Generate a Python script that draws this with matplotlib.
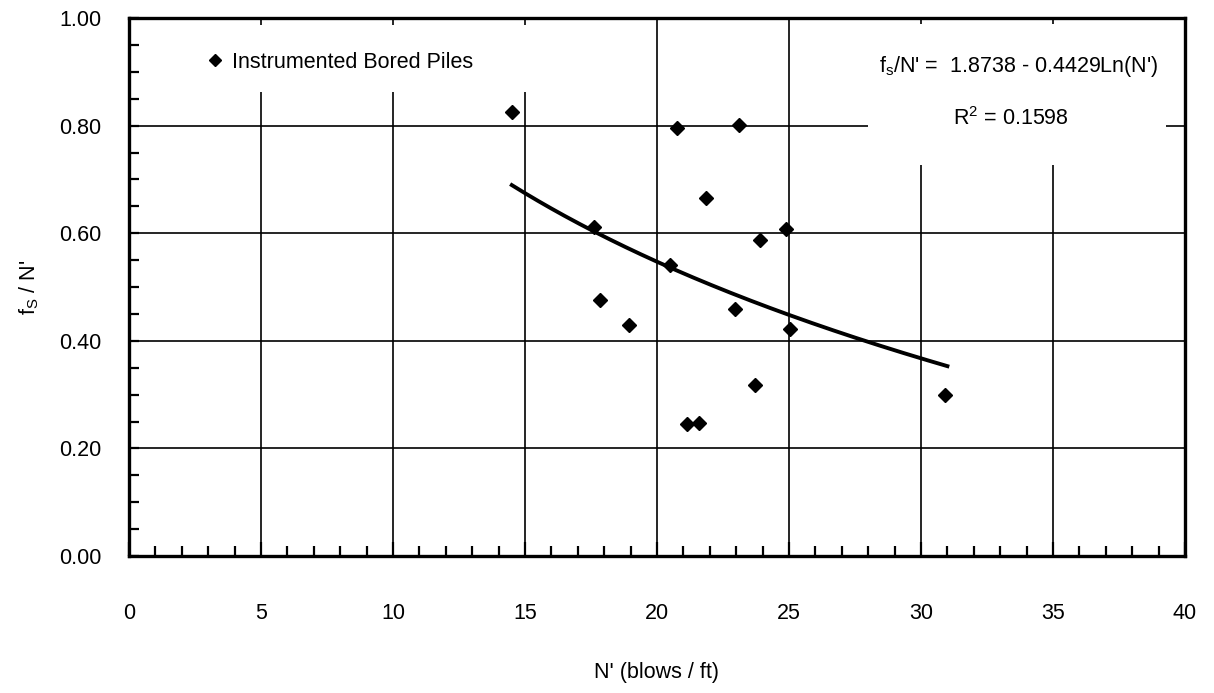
import matplotlib
matplotlib.use("Agg")
import matplotlib.pyplot as plt
from matplotlib.patches import Rectangle
import numpy as np

plt.rcParams['font.family'] = ['Liberation Sans', 'DejaVu Sans']
plt.rcParams['mathtext.fontset'] = 'custom'
plt.rcParams['mathtext.rm'] = 'Liberation Sans'
plt.rcParams['mathtext.it'] = 'Liberation Sans'

# ---- data ----
n_prime = [14.5, 17.6, 17.85, 18.95, 20.5, 20.75, 21.15, 21.6, 21.85, 22.95,
           23.1, 23.7, 23.9, 24.9, 25.05, 30.9]
fs_over_n = [0.825, 0.612, 0.475, 0.43, 0.54, 0.795, 0.245, 0.248, 0.665, 0.46,
             0.802, 0.318, 0.588, 0.607, 0.422, 0.30]
fit_a = 1.8738
fit_b = 0.4429
fit_range = [14.5, 31.0]
r_squared = 0.1598

x_ticks = [0, 5, 10, 15, 20, 25, 30, 35, 40]
y_ticks = [0.0, 0.2, 0.4, 0.6, 0.8, 1.0]
y_tick_labels = ['0.00', '0.20', '0.40', '0.60', '0.80', '1.00']

FS = 15.5

fig = plt.figure(figsize=(12.14, 6.93), dpi=100)
ax = fig.add_axes([129 / 1214, 1 - 556 / 693, (1185 - 129) / 1214, (556 - 18) / 693])

ax.set_xlim(0, 40)
ax.set_ylim(0, 1.0)
ax.set_xticks(x_ticks)
ax.set_xticks(np.arange(0, 41, 1), minor=True)
ax.set_yticks(y_ticks)
ax.set_yticklabels(y_tick_labels)
ax.set_yticks(np.arange(0, 1.0001, 0.05), minor=True)

ax.grid(True, which='major', color='black', linewidth=1.2)
ax.set_axisbelow(True)

ax.tick_params(axis='x', which='major', direction='in', length=10, width=1.6,
               pad=34, labelsize=FS)
ax.tick_params(axis='x', which='minor', direction='in', length=7, width=1.6)
ax.tick_params(axis='y', which='major', direction='in', length=7, width=1.6,
               pad=20, labelsize=FS)
ax.tick_params(axis='y', which='minor', direction='in', length=7, width=1.6)

for s in ax.spines.values():
    s.set_linewidth(2.4)
    s.set_color('black')

# white areas behind the legend and equation (they hide the grid there)
ax.add_patch(Rectangle((0.0104, 0.862), 0.436, 0.125, transform=ax.transAxes,
                       facecolor='white', edgecolor='none', zorder=1))
ax.add_patch(Rectangle((0.70, 0.727), 0.282, 0.262, transform=ax.transAxes,
                       facecolor='white', edgecolor='none', zorder=1))

# data
ax.plot(n_prime, fs_over_n, linestyle='none', marker='D', markersize=7.5,
        color='black', zorder=3, label='Instrumented Bored Piles')

xf = np.linspace(fit_range[0], fit_range[1], 200)
ax.plot(xf, fit_a - fit_b * np.log(xf), color='black', linewidth=2.8, zorder=3)

leg = ax.legend(loc='center left', bbox_to_anchor=(0.0731, 0.918),
                frameon=False, fontsize=FS, handlelength=0.8,
                handletextpad=0.42, borderpad=0, borderaxespad=0,
                numpoints=1, markerscale=0.8)
leg.set_zorder(4)

ax.text(0.842, 0.909, r"f$_{\rm s}$/N' =  %.4f - %.4fLn(N')" % (fit_a, fit_b),
        transform=ax.transAxes, ha='center', va='center', fontsize=FS, zorder=4)
ax.text(0.8355, 0.814, r"R$^{\rm 2}$ = %.4f" % r_squared,
        transform=ax.transAxes, ha='center', va='center', fontsize=FS, zorder=4)

ax.set_xlabel("N' (blows / ft)", fontsize=FS, labelpad=27)
ax.set_ylabel(r"f$_{\rm S}$ / N'", fontsize=FS, labelpad=13)

fig.savefig('out.png', dpi=100)
